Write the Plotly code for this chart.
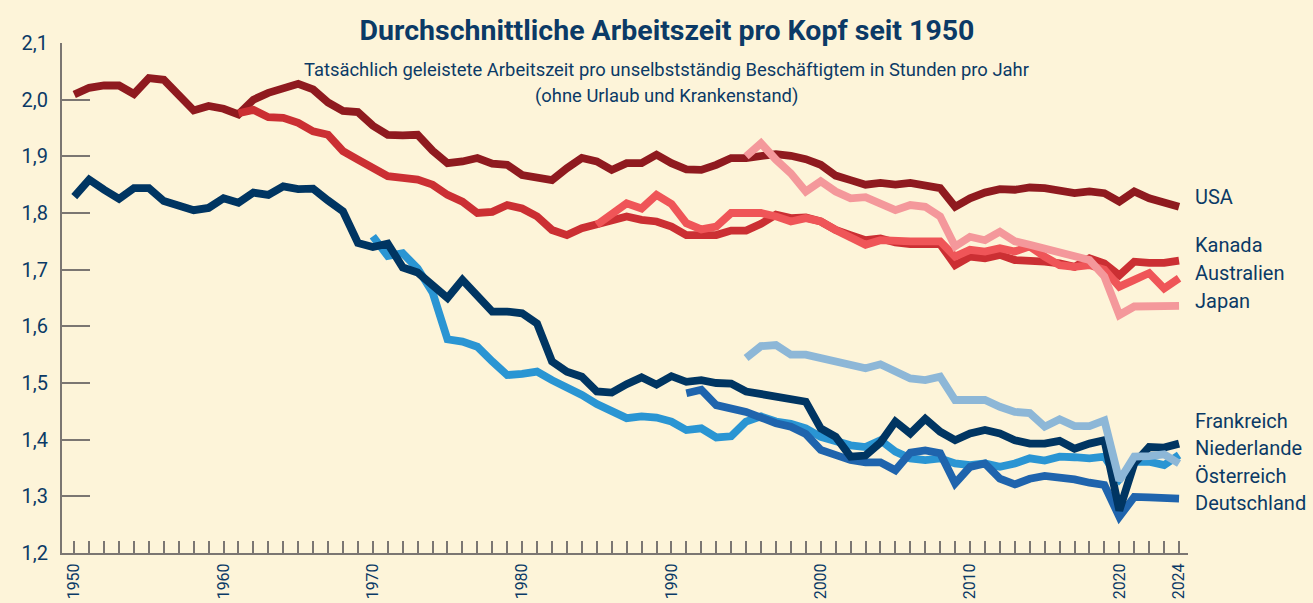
import plotly.graph_objects as go

# ---------------- data (1000 hours per employee per year) ----------------
usa_start = 1950
usa = [2.009, 2.021, 2.025, 2.025, 2.010, 2.038, 2.035, 2.009, 1.981, 1.989,
       1.984, 1.974, 2.000, 2.012, 2.021, 2.028, 2.018, 1.995, 1.980, 1.978,
       1.954, 1.938, 1.937, 1.938, 1.910, 1.888, 1.891, 1.897, 1.887, 1.885,
       1.867, 1.864, 1.858, 1.879, 1.897, 1.891, 1.876, 1.888, 1.888, 1.903,
       1.888, 1.877, 1.876, 1.885, 1.897, 1.897, 1.900, 1.904, 1.901, 1.895,
       1.885, 1.866, 1.858, 1.850, 1.853, 1.850, 1.853, 1.850, 1.844, 1.811,
       1.826, 1.836, 1.842, 1.841, 1.845, 1.844, 1.838, 1.835, 1.838, 1.835,
       1.820, 1.838, 1.826, 1.820, 1.811]

kanada_start = 1961
kanada = [1.976, 1.982, 1.969, 1.968, 1.959, 1.944, 1.938, 1.909, 1.894,
          1.879, 1.865, 1.862, 1.859, 1.850, 1.832, 1.820, 1.800, 1.802, 1.814,
          1.808, 1.794, 1.770, 1.761, 1.773, 1.779, 1.785, 1.794, 1.788, 1.785,
          1.776, 1.761, 1.761, 1.761, 1.769, 1.769, 1.781, 1.797, 1.791, 1.792,
          1.785, 1.770, 1.761, 1.752, 1.755, 1.748, 1.745, 1.745, 1.745, 1.708,
          1.723, 1.720, 1.726, 1.717, 1.717, 1.714, 1.711, 1.705, 1.720, 1.711,
          1.690, 1.714, 1.712, 1.712, 1.716]

australien_start = 1985
australien = [1.779, 1.800, 1.817, 1.808, 1.832, 1.816, 1.782, 1.771, 1.776,
              1.800, 1.801, 1.800, 1.794, 1.785, 1.791, 1.785, 1.770, 1.757,
              1.744, 1.752, 1.750, 1.750, 1.750, 1.750, 1.723, 1.735, 1.732,
              1.738, 1.732, 1.741, 1.723, 1.708, 1.705, 1.708, 1.700, 1.670,
              1.682, 1.694, 1.667, 1.685]

japan_start = 1995
japan = [1.900, 1.923, 1.894, 1.870, 1.838, 1.856, 1.838, 1.826, 1.828, 1.817,
         1.805, 1.814, 1.811, 1.794, 1.741, 1.758, 1.752, 1.767, 1.750, 1.744,
         1.738, 1.729, 1.724, 1.717, 1.688, 1.620, 1.635, 1.635, 1.638, 1.636]

frankreich_start = 1950
frankreich = [1.829, 1.859, 1.841, 1.825, 1.844, 1.844, 1.821, 1.813, 1.805, 1.809,
              1.826, 1.818, 1.836, 1.832, 1.847, 1.842, 1.843, 1.822, 1.803, 1.747,
              1.740, 1.746, 1.704, 1.695, 1.672, 1.650, 1.682, 1.652, 1.626, 1.626,
              1.623, 1.605, 1.538, 1.520, 1.511, 1.485, 1.483, 1.498, 1.510, 1.497,
              1.512, 1.502, 1.505, 1.500, 1.499, 1.485, 1.480, 1.476, 1.469, 1.467,
              1.420, 1.405, 1.370, 1.372, 1.395, 1.432, 1.411, 1.437, 1.414, 1.399,
              1.411, 1.417, 1.411, 1.399, 1.393, 1.393, 1.398, 1.384, 1.393, 1.399,
              1.275, 1.358, 1.387, 1.386, 1.393]

niederlande_start = 1970
niederlande = [1.759, 1.724, 1.729, 1.702, 1.660, 1.577, 1.573, 1.564, 1.538, 1.514,
               1.516, 1.520, 1.505, 1.493, 1.479, 1.463, 1.452, 1.438, 1.441, 1.439,
               1.432, 1.417, 1.420, 1.404, 1.406, 1.432, 1.441, 1.432, 1.428, 1.420,
               1.405, 1.398, 1.390, 1.387, 1.399, 1.379, 1.367, 1.364, 1.367, 1.358,
               1.355, 1.358, 1.352, 1.358, 1.367, 1.363, 1.370, 1.369, 1.367, 1.370,
               1.330, 1.361, 1.361, 1.355, 1.373]

deutschland_start = 1991
deutschland = [1.482, 1.488, 1.461, 1.455, 1.449, 1.439, 1.429, 1.423, 1.410,
               1.382, 1.373, 1.364, 1.360, 1.360, 1.346, 1.377, 1.381, 1.376, 1.323,
               1.352, 1.358, 1.331, 1.321, 1.331, 1.336, 1.334, 1.330, 1.324, 1.320,
               1.264, 1.299, 1.298, 1.296, 1.296]

oesterreich_start = 1995
oesterreich = [1.544, 1.565, 1.567, 1.550, 1.550, 1.544, 1.538, 1.532, 1.526, 1.533,
               1.522, 1.508, 1.505, 1.511, 1.470, 1.470, 1.470, 1.458, 1.449, 1.447,
               1.423, 1.436, 1.424, 1.424, 1.434, 1.328, 1.370, 1.371, 1.374, 1.358]

x_tick_years = [1950, 1960, 1970, 1980, 1990, 2000, 2010, 2020, 2024]
y_tick_values = [1.2, 1.3, 1.4, 1.5, 1.6, 1.7, 1.8, 1.9, 2.0, 2.1]
y_tick_labels = ["1,2", "1,3", "1,4", "1,5", "1,6", "1,7", "1,8", "1,9", "2,0", "2,1"]

# ---------------- styling ----------------
BG = "#fdf4d9"
TEXT = "#0b3a66"
AXIS = "#7b7672"
FONT = "Roboto"

series = [
    ("Niederlande", niederlande_start, niederlande, "#2a95d3"),
    ("Deutschland", deutschland_start, deutschland, "#1f64ad"),
    ("Frankreich", frankreich_start, frankreich, "#003562"),
    ("Österreich", oesterreich_start, oesterreich, "#8db7d7"),
    ("USA", usa_start, usa, "#8f1a1f"),
    ("Kanada", kanada_start, kanada, "#cb2f33"),
    ("Australien", australien_start, australien, "#ef5558"),
    ("Japan", japan_start, japan, "#f4989b"),
]

label_y = {
    "USA": 1.828, "Kanada": 1.743, "Australien": 1.694, "Japan": 1.644,
    "Frankreich": 1.433, "Niederlande": 1.385, "Österreich": 1.336,
    "Deutschland": 1.288,
}

fig = go.Figure()
for name, start, vals, color in series:
    years = list(range(start, start + len(vals)))
    fig.add_trace(go.Scatter(
        x=years, y=vals, mode="lines", name=name,
        line=dict(color=color, width=7.8),
        hoverinfo="skip", showlegend=False,
    ))

annotations = []
for name, _, _, _ in series:
    annotations.append(dict(
        x=1.004, xref="paper", y=label_y[name], yref="y",
        text=name, showarrow=False, xanchor="left", yanchor="middle",
        font=dict(family=FONT, size=20, color=TEXT),
    ))

annotations.append(dict(
    x=0.537, xref="paper", y=0.948, yref="paper",
    text="Tatsächlich geleistete Arbeitszeit pro unselbstständig Beschäftigtem in Stunden pro Jahr",
    showarrow=False, xanchor="center", yanchor="middle",
    font=dict(family=FONT, size=18.4, color=TEXT),
))
annotations.append(dict(
    x=0.537, xref="paper", y=0.897, yref="paper",
    text="(ohne Urlaub und Krankenstand)",
    showarrow=False, xanchor="center", yanchor="middle",
    font=dict(family=FONT, size=18.4, color=TEXT),
))

fig.update_layout(
    width=1313, height=603,
    paper_bgcolor=BG, plot_bgcolor=BG,
    margin=dict(l=62, r=125, t=43, b=50, autoexpand=False),
    title=dict(
        text="<b>Durchschnittliche Arbeitszeit pro Kopf seit 1950</b>",
        x=0.508, xanchor="center", y=0.951, yanchor="middle",
        font=dict(family=FONT, size=28.5, color=TEXT),
    ),
    annotations=annotations,
    font=dict(family=FONT, color=TEXT),
)

fig.update_xaxes(
    range=[1949.18, 2024.6],
    tickmode="array", tickvals=x_tick_years,
    ticktext=[str(v) for v in x_tick_years],
    tickangle=-90,
    ticks="inside", ticklen=12, tickwidth=2, tickcolor=AXIS,
    minor=dict(dtick=1, tick0=1950, ticks="inside", ticklen=12,
               tickwidth=2, tickcolor=AXIS, showgrid=False),
    showline=True, linecolor=AXIS, linewidth=2,
    showgrid=False, zeroline=False, automargin=False,
    tickfont=dict(family=FONT, size=16, color=TEXT),
    ticklabelstandoff=2,
)

fig.update_yaxes(
    range=[1.2, 2.1],
    tickmode="array", tickvals=y_tick_values, ticktext=y_tick_labels,
    ticks="inside", ticklen=28, tickwidth=2, tickcolor=AXIS,
    showline=True, linecolor=AXIS, linewidth=2,
    showgrid=False, zeroline=False, automargin=False,
    tickfont=dict(family=FONT, size=20, color=TEXT),
    ticklabelstandoff=8,
)

fig.write_html(
    "out.html",
    config={"displayModeBar": False, "staticPlot": True},
    post_script="document.body.style.margin='0';document.body.style.background='%s';" % BG,
)
